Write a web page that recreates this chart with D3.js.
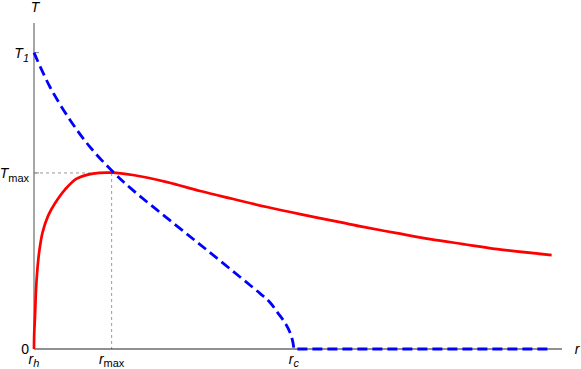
<!DOCTYPE html>
<html>
<head>
<meta charset="utf-8">
<script src="https://cdn.jsdelivr.net/npm/d3@7"></script>
<style>
  body { margin: 0; background: #fff; }
  svg text { font-family: "Liberation Sans", Arial, sans-serif; font-size: 14px; fill: #000; }
</style>
</head>
<body>
<div id="chart"></div>
<script>
// data (r in arbitrary units, T scaled so T1 = 1)
const redR = [0, 0.004, 0.019, 0.039, 0.064, 0.102, 0.168, 0.276, 0.406, 0.599, 0.825, 1.14, 1.5, 1.91, 2.57, 3.21, 3.85, 4.5, 5.14, 5.91, 6.36, 7.01, 7.65, 8.29, 8.95, 10.0]
const redT = [0, 0.05, 0.108, 0.199, 0.266, 0.33, 0.395, 0.451, 0.492, 0.538, 0.575, 0.592, 0.595, 0.587, 0.563, 0.533, 0.506, 0.479, 0.455, 0.428, 0.412, 0.391, 0.371, 0.354, 0.337, 0.317]
const blueR = [0, 0.309, 0.696, 1.08, 1.53, 1.91, 2.69, 3.34, 3.98, 4.37, 4.56, 4.71, 4.85, 4.95, 5.0, 5.02]
const blueT = [1.0, 0.884, 0.773, 0.682, 0.597, 0.536, 0.425, 0.334, 0.243, 0.187, 0.157, 0.122, 0.088, 0.054, 0.024, 0]
const rEnd = 10.0
const rMarks = [{v: 0, sub: "h"}, {v: 1.5, sub: "max"}, {v: 5.02, sub: "c"}]
const tMarks = [{v: 0, label: "0"}, {v: 0.594, sub: "max"}, {v: 1.0, sub: "1"}]
const rMax = 1.5
const tMax = 0.594

const width = 581
const height = 369
let dimensions = {
  width: width,
  height: height,
  margin: { top: 23, bottom: 20, left: 34, right: 19 }
}
dimensions.boundedWidth = dimensions.width - dimensions.margin.left - dimensions.margin.right
dimensions.boundedHeight = dimensions.height - dimensions.margin.top - dimensions.margin.bottom

const svg = d3.select("#chart")
    .append("svg")
    .attr("width", dimensions.width)
    .attr("height", dimensions.height)
const bounds = svg.append("g")
    .attr("transform", `translate(${dimensions.margin.left},${dimensions.margin.top})`)

const xScale = d3.scaleLinear()
    .domain([0, 10.2])
    .range([0, dimensions.boundedWidth])
const yScale = d3.scaleLinear()
    .domain([0, 1.1])
    .range([dimensions.boundedHeight, 0])

// guide lines for the maximum
bounds.append("line")
    .attr("x1", 0).attr("x2", xScale(rMax))
    .attr("y1", yScale(tMax)).attr("y2", yScale(tMax))
    .attr("stroke", "#999").attr("stroke-width", 1)
    .attr("stroke-dasharray", "3,3")
bounds.append("line")
    .attr("x1", xScale(rMax)).attr("x2", xScale(rMax))
    .attr("y1", yScale(tMax)).attr("y2", yScale(0))
    .attr("stroke", "#999").attr("stroke-width", 1)
    .attr("stroke-dasharray", "3,3")

// axes
bounds.append("line")
    .attr("x1", 0).attr("x2", 0)
    .attr("y1", 0).attr("y2", yScale(0))
    .attr("stroke", "#888").attr("stroke-width", 1.5)
bounds.append("line")
    .attr("x1", 0).attr("x2", dimensions.boundedWidth)
    .attr("y1", yScale(0)).attr("y2", yScale(0))
    .attr("stroke", "#222").attr("stroke-width", 1.2)

// small ticks on the T axis
bounds.selectAll(".ytick")
    .data(tMarks.filter(d => d.v > 0))
    .join("line")
    .attr("class", "ytick")
    .attr("x1", 0).attr("x2", 5)
    .attr("y1", d => yScale(d.v)).attr("y2", d => yScale(d.v))
    .attr("stroke", "#888").attr("stroke-width", 1)

// curves
const line = d3.line()
    .x(d => xScale(d[0]))
    .y(d => yScale(d[1]))
    .curve(d3.curveCatmullRom.alpha(0.5))

bounds.append("path")
    .datum(redR.map((r, i) => [r, redT[i]]))
    .attr("d", line)
    .attr("fill", "none")
    .attr("stroke", "#ff0000")
    .attr("stroke-width", 2.7)

const bluePts = blueR.map((r, i) => [r, blueT[i]])
bounds.append("path")
    .datum(bluePts)
    .attr("d", d => line(d) + "L" + xScale(rEnd) + "," + yScale(0))
    .attr("fill", "none")
    .attr("stroke", "#0000ff")
    .attr("stroke-width", 2.8)
    .attr("stroke-dasharray", "10,5")

// y labels
const yLabels = bounds.selectAll(".ylabel")
    .data(tMarks)
    .join("text")
    .attr("class", "ylabel")
    .attr("x", -5)
    .attr("y", d => yScale(d.v) + 5)
    .style("text-anchor", "end")
yLabels.filter(d => d.label).text(d => d.label)
yLabels.filter(d => d.sub).each(function(d) {
  const t = d3.select(this)
  t.append("tspan").style("font-style", "italic").text("T")
  t.append("tspan")
      .attr("dy", 4)
      .style("font-size", "11px")
      .style("font-style", d.sub === "1" ? "italic" : "normal")
      .text(d.sub)
})

// x labels
const xLabels = bounds.selectAll(".xlabel")
    .data(rMarks)
    .join("text")
    .attr("class", "xlabel")
    .attr("x", d => xScale(d.v))
    .attr("y", yScale(0) + 15)
    .style("text-anchor", "middle")
xLabels.append("tspan").style("font-style", "italic").text("r")
xLabels.append("tspan")
    .attr("dy", 3)
    .style("font-size", "11px")
    .style("font-style", d => d.sub === "max" ? "normal" : "italic")
    .text(d => d.sub)

// axis titles
bounds.append("text")
    .attr("x", 1)
    .attr("y", -11)
    .style("text-anchor", "middle")
    .style("font-style", "italic")
    .text("T")
bounds.append("text")
    .attr("x", dimensions.boundedWidth + 15)
    .attr("y", yScale(0) + 5)
    .style("text-anchor", "middle")
    .style("font-style", "italic")
    .text("r")
</script>
</body>
</html>
